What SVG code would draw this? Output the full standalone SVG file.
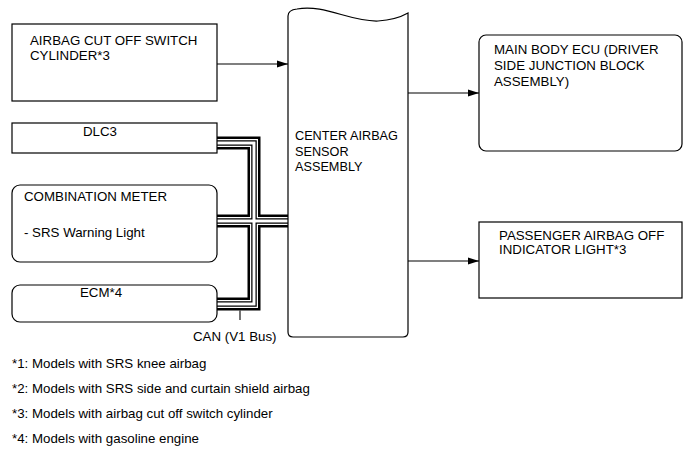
<svg xmlns="http://www.w3.org/2000/svg" width="691" height="465" viewBox="0 0 691 465">
<style>
.box{fill:#fff;stroke:#000;stroke-width:1.2}
.t{font-family:"Liberation Sans",Arial,sans-serif;font-size:13.3px;fill:#000}
.s{font-size:12.7px}
.ln{fill:none;stroke:#000;stroke-width:1.1}
.b1{fill:none;stroke:#000;stroke-width:13;stroke-linejoin:miter}
.b2{fill:none;stroke:#fff;stroke-width:8;stroke-linejoin:miter}
.b3{fill:none;stroke:#000;stroke-width:5.5;stroke-linejoin:miter}
.b4{fill:none;stroke:#fff;stroke-width:3;stroke-linejoin:miter}
</style>
<defs>
<marker id="ah" markerWidth="11" markerHeight="8" refX="11" refY="4" orient="auto" markerUnits="userSpaceOnUse">
<path d="M0,0.6 L11,4 L0,7.4 Z" fill="#000"/>
</marker>
</defs>
<g id="connectors">
<g id="can-bus">
<path class="b1" d="M217,143 H254 V304 H217 M217,221 H288"/>
<path class="b2" d="M217,143 H254 V304 H217 M217,221 H288"/>
<path class="b3" d="M217,143 H254 V304 H217 M217,221 H288"/>
<path class="b4" d="M217,143 H254 V304 H217 M217,221 H288"/>
</g>
<path class="ln" d="M240,310.5 V320"/>
<path class="ln" d="M217,64 H288" marker-end="url(#ah)"/>
<path class="ln" d="M408,93 H479" marker-end="url(#ah)"/>
<path class="ln" d="M408,261 H479" marker-end="url(#ah)"/>
</g>
<g id="airbag-cut-off">
<rect class="box" x="12" y="24" width="205" height="77"/>
<text class="t" x="30" y="45">AIRBAG CUT OFF SWITCH</text>
<text class="t" x="30" y="60">CYLINDER*3</text>
</g>
<g id="dlc3">
<rect class="box" x="12" y="123" width="205" height="30"/>
<text class="t" x="100" y="136" text-anchor="middle">DLC3</text>
</g>
<g id="combination-meter">
<rect class="box" x="12" y="185" width="205" height="77" rx="8"/>
<text class="t" x="24" y="201">COMBINATION METER</text>
<text class="t" x="24" y="237">- SRS Warning Light</text>
</g>
<g id="ecm">
<rect class="box" x="12" y="285" width="205" height="37" rx="8"/>
<text class="t" x="101" y="297" text-anchor="middle">ECM*4</text>
</g>
<g id="can-label">
<text class="t" x="193" y="341">CAN (V1 Bus)</text>
</g>
<g id="center-sensor">
<path class="box" d="M288,332 V16 Q288,10 297,9 C325,4 350,22 378,21 C393,20 401,17 408,13 V332 Q408,337 403,337 H293 Q288,337 288,332 Z"/>
<text class="t s" x="295" y="140">CENTER AIRBAG</text>
<text class="t s" x="295" y="155.5">SENSOR</text>
<text class="t s" x="295" y="171">ASSEMBLY</text>
</g>
<g id="main-body-ecu">
<rect class="box" x="479" y="35" width="203" height="116" rx="7"/>
<text class="t" x="494" y="54">MAIN BODY ECU (DRIVER</text>
<text class="t" x="494" y="70">SIDE JUNCTION BLOCK</text>
<text class="t" x="494" y="86">ASSEMBLY)</text>
</g>
<g id="passenger-indicator">
<rect class="box" x="479" y="222" width="203" height="76"/>
<text class="t" x="499" y="240">PASSENGER AIRBAG OFF</text>
<text class="t" x="499" y="254">INDICATOR LIGHT*3</text>
</g>
<g id="footnotes">
<text class="t" x="12" y="368">*1: Models with SRS knee airbag</text>
<text class="t" x="12" y="393">*2: Models with SRS side and curtain shield airbag</text>
<text class="t" x="12" y="418">*3: Models with airbag cut off switch cylinder</text>
<text class="t" x="12" y="443">*4: Models with gasoline engine</text>
</g>
</svg>
